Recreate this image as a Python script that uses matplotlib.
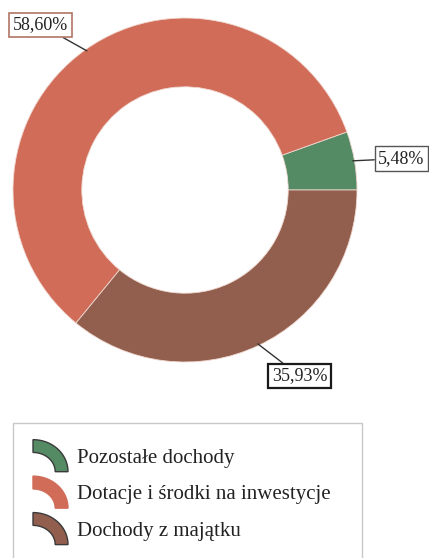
import numpy as np
import matplotlib
matplotlib.use("Agg")
import matplotlib.pyplot as plt
from matplotlib.patches import Rectangle, PathPatch
from matplotlib.path import Path
from matplotlib.legend_handler import HandlerPatch

categories = ["Pozostałe dochody", "Dotacje i środki na inwestycje", "Dochody z majątku"]
values = [5.48, 58.60, 35.93]
labels = ["5,48%", "58,60%", "35,93%"]
colors = ["#548a64", "#d06c58", "#925f4e"]
legend_edges = ["#3a3a3a", "#d06c58", "#3a3a3a"]
box_edges = ["#555555", "#b07666", "#1a1a1a"]
box_lw = [1.0, 1.2, 1.6]
label_pos = [(1.259, 0.183), (-0.84, 0.96), (0.666, -1.081)]

plt.rcParams['font.family'] = ['Liberation Serif', 'DejaVu Serif']

W, H = 429, 558
fig = plt.figure(figsize=(W / 100, H / 100), dpi=100)
cx, cy, R = 185, 190, 172
ax = fig.add_axes([(cx - R) / W, (H - cy - R) / H, 2 * R / W, 2 * R / H])
wedges, _ = ax.pie(values, colors=colors, startangle=0, counterclock=True,
                   radius=1.0, wedgeprops=dict(width=0.4, edgecolor="#f0d8d0", linewidth=0.6))
ax.set_xlim(-1, 1)
ax.set_ylim(-1, 1)
ax.set_aspect("equal")
ax.axis("off")

for w, lab, pos, ec, lw in zip(wedges, labels, label_pos, box_edges, box_lw):
    ang = np.deg2rad((w.theta1 + w.theta2) / 2)
    px, py = 0.99 * np.cos(ang), 0.99 * np.sin(ang)
    ax.annotate(lab, xy=(px, py), xytext=pos, ha="center", va="center",
                fontsize=13, color="#222222", annotation_clip=False,
                bbox=dict(boxstyle="square,pad=0.2", fc="white", ec=ec, lw=lw),
                arrowprops=dict(arrowstyle="-", color="#333333", lw=1.0,
                                shrinkA=0, shrinkB=0))


class ArcHandler(HandlerPatch):
    def create_artists(self, legend, orig_handle, xdescent, ydescent, width,
                       height, fontsize, trans):
        rx = width
        ry = 1.5 * height
        x0 = -xdescent
        y0 = -ydescent + height / 2 - ry / 2
        t = 0.6 * height
        th = np.linspace(np.pi / 2, 0, 30)
        outer = np.column_stack([x0 + rx * np.cos(th), y0 + ry * np.sin(th)])
        inner = np.column_stack([x0 + (rx - t) * np.cos(th[::-1]),
                                 y0 + (ry - t) * np.sin(th[::-1])])
        verts = np.vstack([outer, inner, outer[:1]])
        codes = [Path.MOVETO] + [Path.LINETO] * (len(verts) - 2) + [Path.CLOSEPOLY]
        p = PathPatch(Path(verts, codes), facecolor=orig_handle.get_facecolor(),
                      edgecolor=orig_handle.get_edgecolor(), lw=1.0)
        p.set_transform(trans)
        return [p]


handles = [Rectangle((0, 0), 1, 1, facecolor=c, edgecolor=e)
           for c, e in zip(colors, legend_edges)]
leg = fig.legend(handles, categories, loc="upper left",
                 bbox_to_anchor=(33 / W, 1 - 445 / H), frameon=False,
                 borderpad=0, borderaxespad=0,
                 fontsize=15, handlelength=1.68, handleheight=1.2,
                 handletextpad=0.43, labelspacing=0.66,
                 handler_map={Rectangle: ArcHandler()})
for t in leg.get_texts():
    t.set_color("#222222")

frame = Rectangle((13 / W, -0.05), (362 - 13) / W, (H - 423) / H + 0.05,
                  transform=fig.transFigure, fill=False, edgecolor="#c8c8c8", lw=1.0)
fig.add_artist(frame)

fig.savefig("out.png", dpi=100, facecolor="white")
